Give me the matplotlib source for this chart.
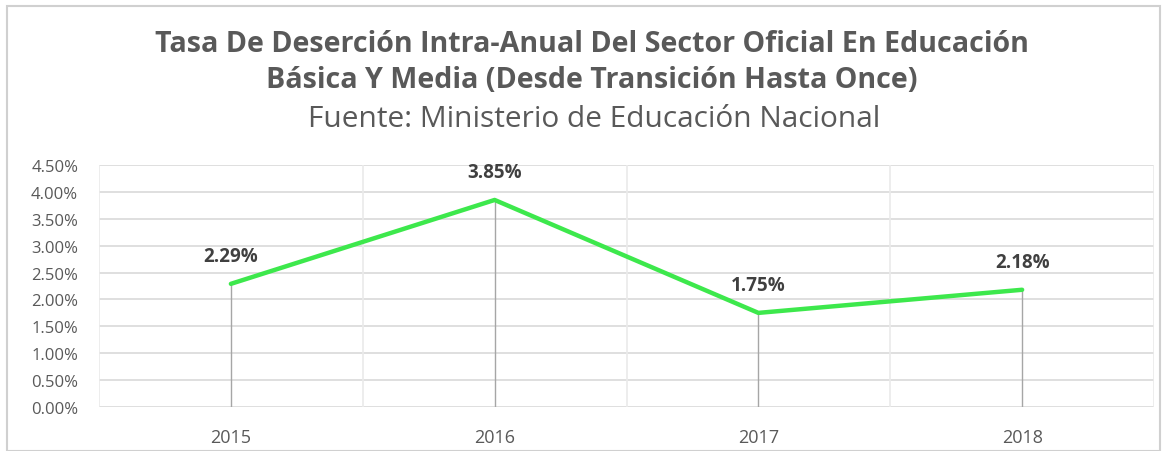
import matplotlib
matplotlib.use("Agg")
import matplotlib.pyplot as plt
from matplotlib.patches import Rectangle

plt.rcParams["font.family"] = ["Open Sans", "DejaVu Sans"]

# datos
years = ["2015", "2016", "2017", "2018"]
tasa = [2.29, 3.85, 1.75, 2.18]
yticks = [0.0, 0.5, 1.0, 1.5, 2.0, 2.5, 3.0, 3.5, 4.0, 4.5]

GREEN = "#3DE84C"
GRID = "#D9D9D9"
TXT = "#595959"
LBL = "#404040"

W, H = 1169, 452
fig = plt.figure(figsize=(W / 100, H / 100), dpi=100)

# marco del grafico
fig.patches.append(Rectangle((7 / W, 0), (1160 - 7) / W, (H - 7) / H,
                             transform=fig.transFigure, fill=False,
                             edgecolor="#D0D0D0", linewidth=1.5))

fig.text(592 / W, 1 - 45 / H, "Tasa De Deserción Intra-Anual Del Sector Oficial En Educación",
         ha="center", va="center", fontsize=20.6, fontweight="bold", color=TXT)
fig.text(592 / W, 1 - 81 / H, "Básica Y Media (Desde Transición Hasta Once)",
         ha="center", va="center", fontsize=20.6, fontweight="bold", color=TXT)
fig.text(594 / W, 1 - 120 / H, "Fuente: Ministerio de Educación Nacional",
         ha="center", va="center", fontsize=21.5, color=TXT)

ax = fig.add_axes([99 / W, 1 - 408 / H, (1154 - 99) / W, (408 - 166) / H])
x = list(range(len(years)))
ax.set_xlim(-0.5, len(years) - 0.5)
ax.set_ylim(0, 4.5)

for yv in yticks:
    ax.axhline(yv, color=GRID, linewidth=1.2, zorder=0)
for xb in [i - 0.5 for i in range(len(years) + 1)]:
    ax.axvline(xb, color="#EAEAEA", linewidth=1.2, zorder=0)

ax.vlines(x, 0, tasa, color="#A6A6A6", linewidth=1, zorder=1)
ax.plot(x, tasa, color=GREEN, linewidth=3.2, solid_capstyle="round", zorder=2)

for xi, v in zip(x, tasa):
    ax.annotate(f"{v:.2f}%", (xi, v), xytext=(0, 20), textcoords="offset points",
                ha="center", va="center", fontsize=13.5, fontweight="bold", color=LBL)

ax.set_xticks(x)
ax.set_xticklabels(years)
ax.set_yticks(yticks)
ax.set_yticklabels([f"{v:.2f}%" for v in yticks])
ax.tick_params(axis="both", length=0, labelcolor=TXT)
ax.tick_params(axis="x", pad=15, labelsize=13)
ax.tick_params(axis="y", pad=15, labelsize=12)
for s in ax.spines.values():
    s.set_visible(False)

fig.savefig("out.png", dpi=100, facecolor="white")
